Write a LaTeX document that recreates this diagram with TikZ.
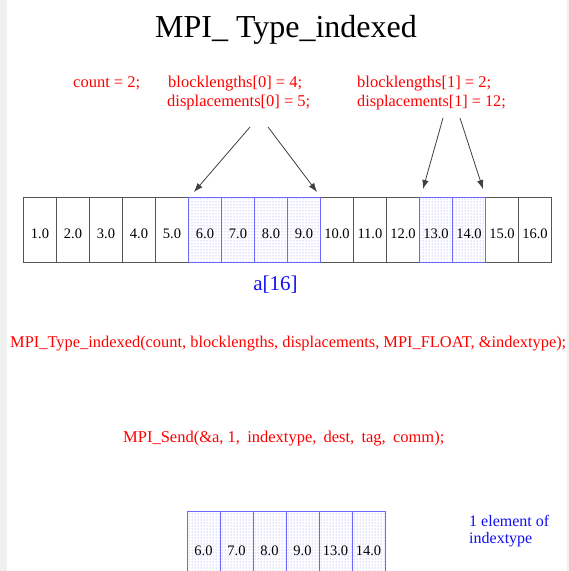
\documentclass[tikz,border=0pt]{standalone}
\usepackage{fontspec}
\setmainfont{Liberation Serif}
\usetikzlibrary{patterns,arrows.meta}
\definecolor{cellgray}{HTML}{555555}
\definecolor{selblue}{HTML}{6A6AFF}
\definecolor{dotblue}{HTML}{8C8CFF}
\definecolor{codered}{HTML}{FF0000}
\definecolor{noteblue}{HTML}{1010F0}
\definecolor{edgegray}{HTML}{F0F0F0}
% wider gap used between the arguments of the send call
\newcommand\argsp{\hspace{7.2pt}}
\begin{document}
\begin{tikzpicture}[x=1pt,y=-1pt,
  cellbox/.style={draw=cellgray, line width=0.9pt, fill=white, inner sep=0pt,
    minimum width=33pt, minimum height=65pt, anchor=north west},
  selbox/.style={draw=selblue, line width=0.9pt, pattern=dots, pattern color=dotblue,
    inner sep=0pt, minimum width=33pt, minimum height=65pt, anchor=north west},
  numtext/.style={font=\fontsize{14.5}{16}\selectfont, inner sep=0pt, anchor=base},
  code/.style={text=codered, font=\fontsize{16.5}{19}\selectfont, inner sep=0pt, anchor=base west},
  pointer/.style={draw=black!75, line width=0.8pt, -{Latex[length=9pt,width=6.5pt]}}
]
\useasboundingbox (0,0) rectangle (569,571);
\clip (0,0) rectangle (569,571);
\fill[white] (0,0) rectangle (569,571);
\fill[edgegray] (0,0) rectangle (7,571);
\fill[edgegray] (567,0) rectangle (569,571);

% title
\node[font=\fontsize{32}{38}\selectfont, inner sep=0pt, anchor=base] (title) at (286,37) {MPI\_ Type\_indexed};

% parameter assignments
\node[code] (cnt) at (73,87) {count = 2;};
\node[code] (bl0) at (168,87) {blocklengths[0] = 4;};
\node[code] (dp0) at (167,106) {displacements[0] = 5;};
\node[code] (bl1) at (357,87) {blocklengths[1] = 2;};
\node[code, font=\fontsize{16.2}{19}\selectfont] (dp1) at (357,106) {displacements[1] = 12;};

% the array a[16]: plain cells first, selected blocks on top
\foreach \v [count=\i] in {1.0,2.0,3.0,4.0,5.0,6.0,7.0,8.0,9.0,10.0,11.0,12.0,13.0,14.0,15.0,16.0} {
  \node[cellbox] (a\i) at ({23+33*(\i-1)},197) {};
}
\foreach \i in {6,7,8,9,13,14} {
  \node[selbox] (s\i) at ({23+33*(\i-1)},197) {};
}
\foreach \v [count=\i] in {1.0,2.0,3.0,4.0,5.0,6.0,7.0,8.0,9.0,10.0,11.0,12.0,13.0,14.0,15.0,16.0} {
  \node[numtext] (n\i) at ([yshift=-8.5pt]a\i.center) {\v};
}
\node[text=noteblue, font=\fontsize{21}{24}\selectfont, inner sep=0pt, anchor=base] (aname) at (275.5,290) {a[16]};

% pointers from the assignments to the blocks
\coordinate (t1) at (250,127);
\coordinate (t2) at (268,127);
\coordinate (t3) at (443,118);
\coordinate (t4) at (460,118);
\coordinate (h1) at (194,192);
\coordinate (h2) at (317,192);
\coordinate (h3) at (423,189);
\coordinate (h4) at (483,189);
\draw[pointer] (t1) -- (h1);
\draw[pointer] (t2) -- (h2);
\draw[pointer] (t3) -- (h3);
\draw[pointer] (t4) -- (h4);

% calls
\node[code, font=\fontsize{16.4}{19}\selectfont] (tcall) at (10,347) {MPI\_Type\_indexed(count, blocklengths, displacements, MPI\_FLOAT, \&indextype);};
\node[code] (scall) at (123,442) {MPI\_Send(\&a, 1,\argsp indextype,\argsp dest,\argsp tag,\argsp comm);};

% one element of the new type
\foreach \v [count=\i] in {6.0,7.0,8.0,9.0,13.0,14.0} {
  \node[selbox, minimum height=80pt] (b\i) at ({187+33*(\i-1)},511) {};
  \node[numtext] (m\i) at ({187+33*(\i-1)+16.5},555) {\v};
}
\node[text=noteblue, font=\fontsize{16}{17}\selectfont, inner sep=0pt, align=left, anchor=base west] (note) at (469,543) {1 element of\\indextype};
\end{tikzpicture}
\end{document}
